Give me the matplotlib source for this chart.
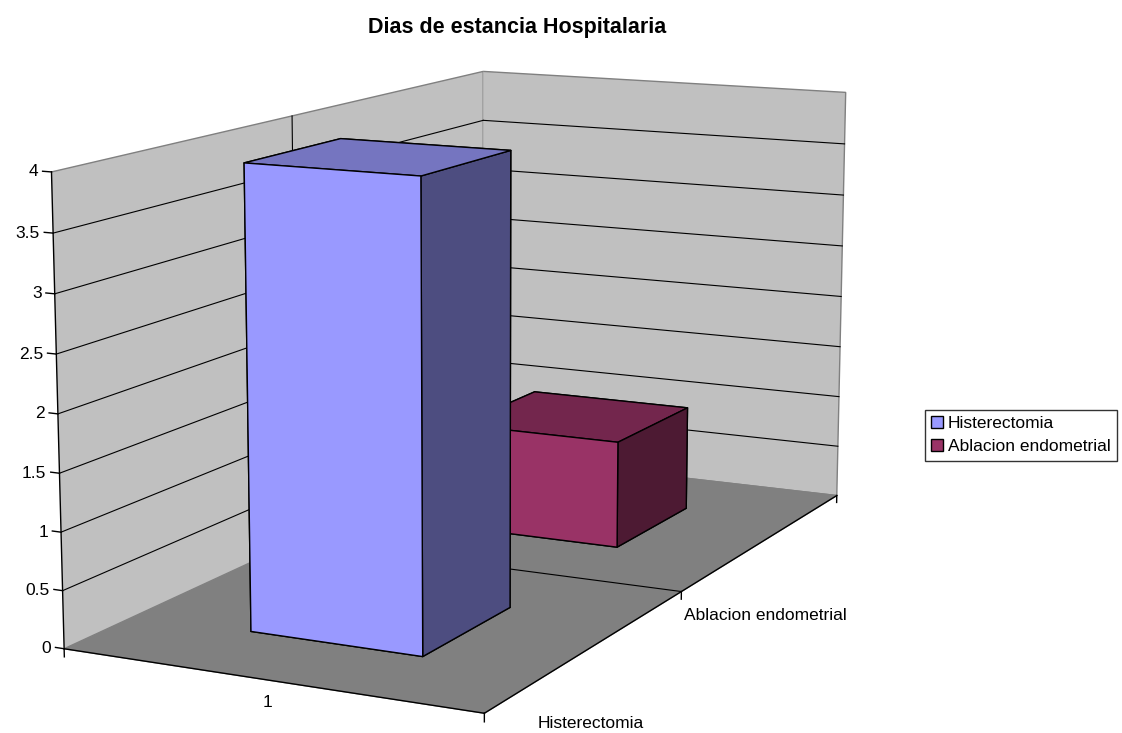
import numpy as np
import matplotlib
matplotlib.use("Agg")
import matplotlib.pyplot as plt
from matplotlib.patches import Patch
from mpl_toolkits.mplot3d import proj3d

plt.rcParams["font.family"] = ["Liberation Sans", "DejaVu Sans"]

# Chart data
title = "Dias de estancia Hospitalaria"
category_labels = ["1"]
series_names = ["Histerectomia", "Ablacion endometrial"]
series_values = [4, 1]
value_ticks = [0, 0.5, 1, 1.5, 2, 2.5, 3, 3.5, 4]
value_tick_labels = ["0", "0.5", "1", "1.5", "2", "2.5", "3", "3.5", "4"]

# face colours per series: front, top, side
front_colors = ["#9999FF", "#993366"]
top_colors = ["#7575C0", "#73264D"]
side_colors = ["#4D4D80", "#4D1A33"]

fig = plt.figure(figsize=(11.22, 7.33), dpi=100)
ax = fig.add_axes([0.033, 0.05, 0.78, 0.92], projection="3d",
                  computed_zorder=False)

ax.set_proj_type("persp", focal_length=0.9)
ax.view_init(elev=11.5, azim=-63.5)
ax.set_box_aspect((1.0, 2.0, 1.025), zoom=1.54)

n = len(series_values)
x0, x1 = -0.5, 0.5
y0, y1 = -0.5, n - 0.5
zmax = value_ticks[-1]
row_edges = np.arange(n + 1) - 0.5

ax.set_xlim(x0, x1)
ax.set_ylim(y0, y1)
ax.set_zlim(0, zmax)
ax.set_xticks([])
ax.set_yticks([])
ax.set_zticks([])
ax.grid(False)

# walls and floor
ax.xaxis.set_pane_color("#C0C0C0")
ax.yaxis.set_pane_color("#C0C0C0")
ax.zaxis.set_pane_color("#808080")
for a in (ax.xaxis, ax.yaxis, ax.zaxis):
    a.pane.set_edgecolor("#808080")
    a.line.set_visible(False)

# gridlines on the side wall, back wall and floor
grid_kw = dict(color="black", lw=0.8, zorder=1, clip_on=False)
for v in value_ticks[1:-1]:
    ax.plot([x0, x0], [y0, y1], [v, v], **grid_kw)
    ax.plot([x0, x1], [y1, y1], [v, v], **grid_kw)
for y in row_edges[1:-1]:
    ax.plot([x0, x0], [y, y], [0, zmax], **grid_kw)
    ax.plot([x0, x1], [y, y], [0, 0], **grid_kw)

# bars: one category on x, one row per series on y
bw, bd = 0.42, 0.42
xs = np.zeros(n) - bw / 2
ys = np.arange(n) - bd / 2
zs = np.zeros(n)
dx = np.full(n, bw)
dy = np.full(n, bd)
dz = np.array(series_values, dtype=float)

# bar3d face order: bottom, top, -y (front), +y, -x, +x (side)
face_colors = []
for i in range(n):
    face_colors += [front_colors[i], top_colors[i], front_colors[i],
                    front_colors[i], side_colors[i], side_colors[i]]

bars = ax.bar3d(xs, ys, zs, dx, dy, dz, color=face_colors, shade=False,
                edgecolor="black", linewidth=1.0)
bars.set_zorder(2)

# axis lines
axis_kw = dict(color="black", lw=1.0, zorder=3, clip_on=False)
ax.plot([x0, x0], [y0, y0], [0, zmax], **axis_kw)
ax.plot([x0, x1], [y0, y0], [0, 0], **axis_kw)
ax.plot([x1, x1], [y0, y1], [0, 0], **axis_kw)

# value axis ticks
for v in value_ticks:
    ax.plot([x0 - 0.022, x0], [y0, y0], [v, v], **axis_kw)

# category / series axis ticks pointing down
tick_pts = [(x0, y0), (x1, y0)] + [(x1, y) for y in row_edges[1:]]
for xt, yt in tick_pts:
    ax.plot([xt, xt], [yt, yt], [0, -0.07], **axis_kw)

fig.suptitle(title, x=0.461, y=0.963, va="center", fontsize=15.5,
             fontweight="bold")

handles = [Patch(facecolor=c, edgecolor="black") for c in front_colors]
fig.legend(handles, series_names, loc="center left",
           bbox_to_anchor=(0.824, 0.406), fontsize=12.5, frameon=True,
           fancybox=False, edgecolor="black", handlelength=0.7,
           handleheight=0.7, handletextpad=0.3, borderpad=0.35,
           labelspacing=0.45, borderaxespad=0)

# axis labels go on as 2D annotations once the projection is known
fig.canvas.draw()


def label_at(x, y, z, text, dx, dy, ha):
    px, py, _ = proj3d.proj_transform(x, y, z, ax.M)
    ax.annotate(text, xy=(px, py), xycoords="data", xytext=(dx, dy),
                textcoords="offset pixels", ha=ha, va="center",
                fontsize=12.5, annotation_clip=False)


for v, lbl in zip(value_ticks, value_tick_labels):
    label_at(x0, y0, v, lbl, -13, 0, "right")
label_at(0, y0, 0, category_labels[0], 0, -23, "center")
for i, name in enumerate(series_names):
    label_at(x1, i, 0, name, 2, -75, "center")

fig.savefig("out.png", dpi=100)
